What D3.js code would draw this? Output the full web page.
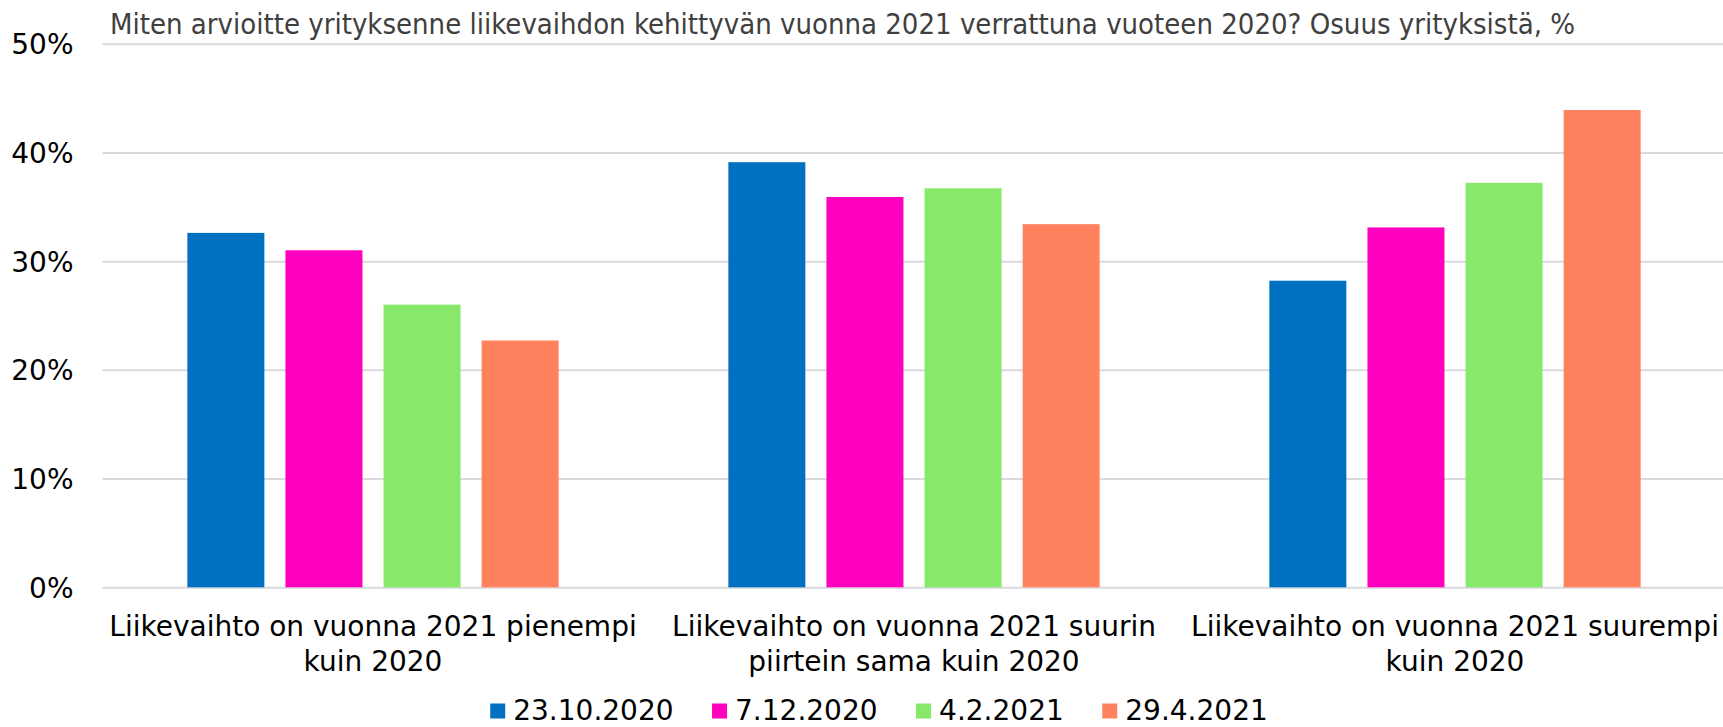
<!DOCTYPE html>
<html>
<head>
<meta charset="utf-8">
<script src="https://cdn.jsdelivr.net/npm/d3@7"></script>
<style>
  body { margin: 0; background: #fff; }
  text { font-family: "DejaVu Sans", Verdana, sans-serif; }
  .title { font-family: "DejaVu Sans Condensed", "DejaVu Sans", sans-serif; font-stretch: condensed; }
</style>
</head>
<body>
<div id="chart"></div>
<script>
const title = "Miten arvioitte yrityksenne liikevaihdon kehittyvän vuonna 2021 verrattuna vuoteen 2020? Osuus yrityksistä, %";

const categories = ["pienempi", "sama", "suurempi"];
const categoryLines = [
  ["Liikevaihto on vuonna 2021 pienempi", "kuin 2020"],
  ["Liikevaihto on vuonna 2021 suurin", "piirtein sama kuin 2020"],
  ["Liikevaihto on vuonna 2021 suurempi", "kuin 2020"]
];

const seriesNames = ["23.10.2020", "7.12.2020", "4.2.2021", "29.4.2021"];
const seriesColors = ["#0070c0", "#ff00be", "#88e86a", "#ff815e"];

const values2310 = [32.6, 39.1, 28.2];
const values0712 = [31.0, 35.9, 33.1];
const values0402 = [26.0, 36.7, 37.2];
const values2904 = [22.7, 33.4, 43.9];
const seriesValues = [values2310, values0712, values0402, values2904];

const yTicks = [0, 10, 20, 30, 40, 50];

const config = {
  width: 1723,
  height: 727,
  left: 102.5,
  right: 1725.5,
  top: 43.7,
  bottom: 587.3
};

const svg = d3.select("#chart").append("svg")
  .attr("width", config.width)
  .attr("height", config.height);

const x0 = d3.scaleBand()
  .domain(categories)
  .range([config.left, config.right]);

const x1 = d3.scaleBand()
  .domain(seriesNames)
  .range([0, x0.bandwidth()])
  .paddingInner(0.215)
  .paddingOuter(0.865);

const y = d3.scaleLinear()
  .domain([0, 50])
  .range([config.bottom, config.top]);

const color = d3.scaleOrdinal().domain(seriesNames).range(seriesColors);

// gridlines + y labels
const yAxis = svg.append("g")
  .attr("transform", `translate(${config.left},0)`)
  .call(d3.axisLeft(y)
    .tickValues(yTicks)
    .tickSize(-(config.right - config.left))
    .tickPadding(29)
    .tickFormat(d => d + "%"));

yAxis.select(".domain").remove();
yAxis.selectAll(".tick line")
  .attr("stroke", "#d9d9de")
  .attr("stroke-width", 2);
yAxis.selectAll(".tick text")
  .attr("fill", "#000")
  .attr("font-size", 28)
  .attr("dy", "0.36em");

// bars
const barData = [];
seriesNames.forEach((s, si) => {
  categories.forEach((c, ci) => {
    barData.push({ series: s, category: c, value: seriesValues[si][ci] });
  });
});

svg.append("g")
  .selectAll("rect")
  .data(barData)
  .join("rect")
  .attr("x", d => x0(d.category) + x1(d.series))
  .attr("y", d => y(d.value))
  .attr("width", x1.bandwidth())
  .attr("height", d => y(0) - y(d.value))
  .attr("fill", d => color(d.series));

// category labels
const xAxis = svg.append("g")
  .attr("transform", `translate(0,${config.bottom})`)
  .call(d3.axisBottom(x0).tickSize(0).tickFormat(""));
xAxis.select(".domain").remove();

xAxis.selectAll(".tick text").remove();
xAxis.selectAll(".tick")
  .append("text")
  .attr("text-anchor", "middle")
  .attr("fill", "#000")
  .attr("font-size", 28)
  .selectAll("tspan")
  .data((d, i) => categoryLines[i])
  .join("tspan")
  .attr("x", 0)
  .attr("y", (d, i) => 49 + i * 35)
  .text(d => d);

// title
svg.append("text")
  .attr("class", "title")
  .attr("x", 110)
  .attr("y", 34)
  .attr("fill", "#404040")
  .attr("font-size", 29)
  .text(title);

// legend
const legend = svg.append("g").attr("transform", "translate(0,711)");
const items = legend.selectAll("g")
  .data(seriesNames)
  .join("g");

items.append("rect")
  .attr("y", -7.5)
  .attr("width", 15)
  .attr("height", 15)
  .attr("fill", d => color(d));

items.append("text")
  .attr("x", 23)
  .attr("y", 9)
  .attr("font-size", 28)
  .attr("fill", "#000")
  .text(d => d);

let pos = 0;
const offsets = [];
items.each(function () {
  offsets.push(pos);
  const w = d3.select(this).select("text").node().getComputedTextLength();
  pos += 23 + w + 38.5;
});
const legendWidth = pos - 38.5;
const legendStart = 879 - legendWidth / 2;
items.attr("transform", (d, i) => `translate(${legendStart + offsets[i]},0)`);
</script>
</body>
</html>
